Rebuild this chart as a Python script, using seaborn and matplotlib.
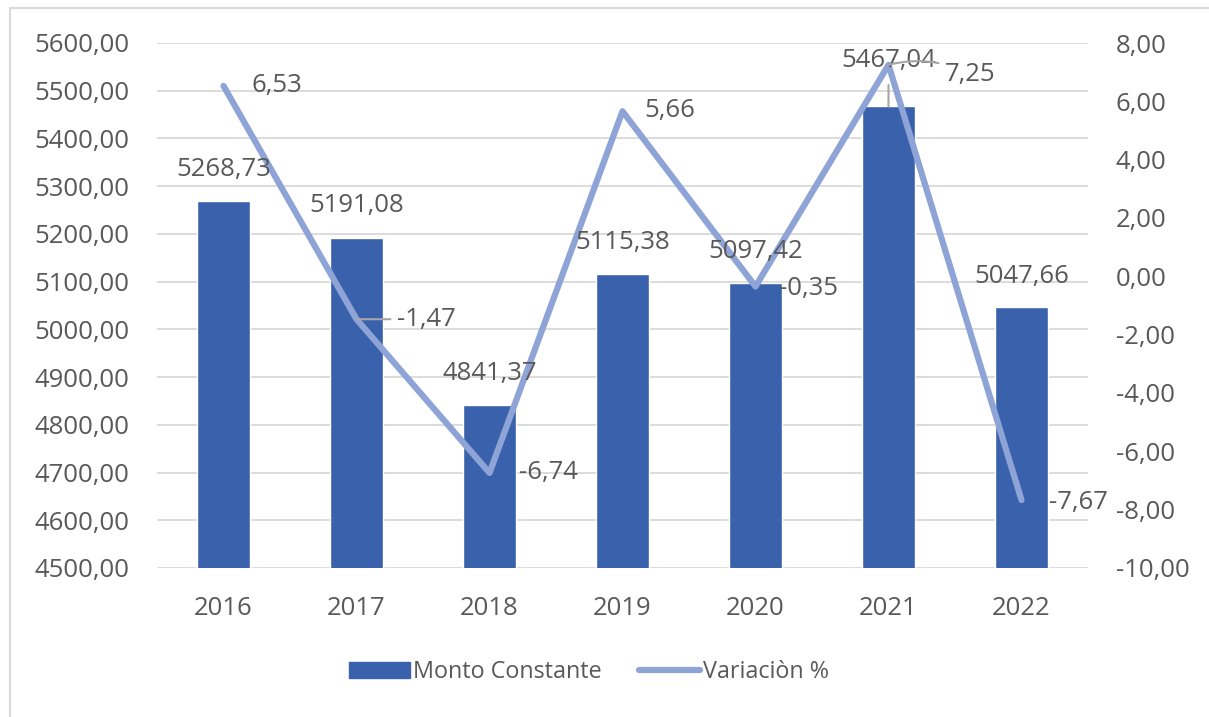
import matplotlib
matplotlib.use("Agg")
import matplotlib.pyplot as plt
from matplotlib.patches import Patch, Rectangle
from matplotlib.lines import Line2D
from matplotlib.ticker import FuncFormatter, MultipleLocator
import seaborn as sns
import pandas as pd

# data
years = ["2016", "2017", "2018", "2019", "2020", "2021", "2022"]
monto = [5268.73, 5191.08, 4841.37, 5115.38, 5097.42, 5467.04, 5047.66]
variacion = [6.53, -1.47, -6.74, 5.66, -0.35, 7.25, -7.67]

# label offsets in pixels (layout only)
bar_lbl_dy = [32, 33, 32, 32, 31, 46, 30]
line_lbl_dx = [28, 40, 29, 22, 24, 56, 27]
line_lbl_dy = [0, 0, 0, 1, -2, -10, -2]

BAR = "#3A61AB"
LINE = "#8EA3D6"
TXT = "#595959"
GRID = "#D9D9D9"
FS = 18.5

sns.set_style("white")
plt.rcParams["font.family"] = ["Open Sans", "DejaVu Sans"]


def fmt(v, pos=None):
    return f"{v:.2f}".replace(".", ",")


df = pd.DataFrame({"year": years, "monto": monto, "var": variacion})
df["pos"] = range(len(df))

fig = plt.figure(figsize=(12.09, 7.17), dpi=100)
ax = fig.add_axes([157 / 1209, 1 - 568 / 717, (1088 - 157) / 1209, (568 - 43) / 717])

sns.barplot(data=df, x="year", y="monto", color=BAR, width=0.4, saturation=1, ax=ax, zorder=2)
ax.set_ylim(4500, 5600)
ax.set_xlim(-0.5, 6.5)
ax.yaxis.set_major_locator(MultipleLocator(100))
ax.yaxis.set_major_formatter(FuncFormatter(fmt))
ax.grid(axis="y", color=GRID, lw=1.3, zorder=0)
ax.set_axisbelow(True)
ax.set_xlabel("")
ax.set_ylabel("")

ax2 = ax.twinx()
sns.lineplot(data=df, x="pos", y="var", color=LINE, lw=4.5, ax=ax2, solid_capstyle="round")
ax2.set_ylim(-10, 8)
ax2.yaxis.set_major_locator(MultipleLocator(2))
ax2.yaxis.set_major_formatter(FuncFormatter(fmt))
ax2.set_xlim(-0.5, 6.5)
ax2.set_ylabel("")
ax2.set_xlabel("")

for a in (ax, ax2):
    for s in a.spines.values():
        s.set_visible(False)
    a.tick_params(length=0, labelsize=FS, labelcolor=TXT, pad=20)

# bar value labels
for i, v in enumerate(monto):
    ax2.annotate(fmt(v), xy=(i, v), xycoords=ax.transData, xytext=(0, bar_lbl_dy[i]),
                 textcoords="offset pixels", ha="center", va="center",
                 fontsize=FS, color=TXT, zorder=5)

# leader for 2021 bar label
ax2.annotate("", xy=(5, monto[5]), xycoords=ax.transData, xytext=(5, 5512),
             textcoords=ax.transData,
             arrowprops=dict(arrowstyle="-", color="#A6A6A6", lw=1.5, shrinkA=0, shrinkB=0))

# line value labels
for i, v in enumerate(variacion):
    lead = None
    if i in (1, 5):
        lead = dict(arrowstyle="-", color="#A6A6A6", lw=1.5, shrinkA=2, shrinkB=0,
                    connectionstyle="arc3,rad=0.2" if i == 5 else "arc3")
    ax2.annotate(fmt(v), xy=(i, v), xytext=(line_lbl_dx[i], line_lbl_dy[i]),
                 textcoords="offset pixels", ha="left", va="center",
                 fontsize=FS, color=TXT, zorder=5, arrowprops=lead)

handles = [Patch(color=BAR), Line2D([0], [0], color=LINE, lw=4.5, solid_capstyle="round")]
fig.legend(handles, ["Monto Constante", "Variaciòn %"], loc="center",
           bbox_to_anchor=(589 / 1209, 1 - 672 / 717), ncol=2, frameon=False,
           fontsize=16.8, labelcolor=TXT, handlelength=2.6, handletextpad=0.15,
           columnspacing=1.6)

# outer chart border
fig.patches.append(Rectangle((10 / 1209, -0.1), 1.2, 1 - 8 / 717 + 0.1,
                             transform=fig.transFigure, fill=False,
                             edgecolor="#D9D9D9", lw=1.5))

fig.savefig("out.png", dpi=100)
